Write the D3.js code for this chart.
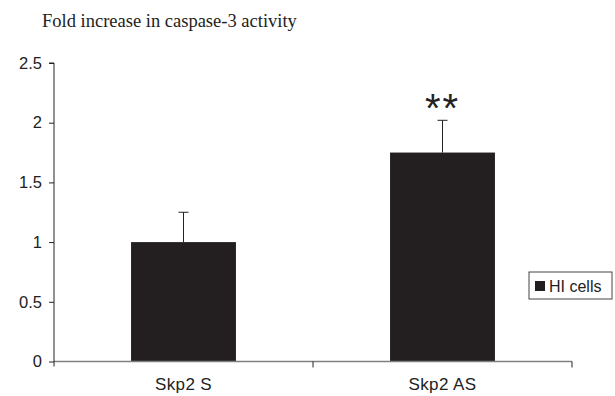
<!DOCTYPE html>
<html><head><meta charset="utf-8">
<script src="https://cdn.jsdelivr.net/npm/d3@7"></script>
<style>body{margin:0;background:#fff}svg{display:block}</style>
</head><body>
<svg id="c" width="615" height="396"></svg>
<script>
const categories = ["Skp2 S", "Skp2 AS"];
const values = [1.0, 1.75];
const errors = [0.25, 0.27];
const marks = ["", "**"];
const yTicks = [0, 0.5, 1, 1.5, 2, 2.5];
const title = "Fold increase in caspase-3 activity";
const seriesName = "HI cells";

const svg = d3.select("#c");
const x0 = 54, x1 = 572, yTop = 63, yBot = 361.5;
const x = d3.scaleBand().domain(categories).range([x0, x1]).paddingInner(0.595).paddingOuter(0.2975);
const y = d3.scaleLinear().domain([0, 2.5]).range([yBot, yTop]);

svg.append("text").attr("x", 42).attr("y", 27).attr("font-family", "Liberation Serif").attr("font-size", 18.5).attr("fill", "#222").text(title);

// bars
svg.selectAll("rect.bar").data(values).enter().append("rect")
  .attr("x", (d, i) => x(categories[i])).attr("width", x.bandwidth())
  .attr("y", d => y(d)).attr("height", d => yBot - y(d)).attr("fill", "#231f20");

// x axis
const xa = svg.append("g").attr("transform", `translate(0,${yBot})`);
xa.append("line").attr("x1", x0).attr("x2", x1).attr("stroke", "#808080").attr("stroke-width", 1.5);
const bounds = [x0 + x.step() * 1, x1];
xa.selectAll("line.t").data(bounds).enter().append("line").attr("x1", d => d).attr("x2", d => d).attr("y1", 0).attr("y2", 6).attr("stroke", "#222");
xa.selectAll("text").data(categories).enter().append("text")
  .attr("x", d => x(d) + x.bandwidth() / 2).attr("y", 28).attr("text-anchor", "middle")
  .attr("font-family", "Liberation Sans").attr("font-size", 17).attr("letter-spacing", 0.4).attr("fill", "#222").text(d => d);

// y axis
const ya = svg.append("g").attr("transform", `translate(${x0},0)`)
  .call(d3.axisLeft(y).tickValues(yTicks).tickSize(5).tickPadding(7).tickFormat(d3.format("")));
ya.select(".domain").attr("stroke", "#222").attr("d", `M-5,${yTop}H0V${yBot + 5}`);
ya.selectAll(".tick line").attr("stroke", "#222");
ya.selectAll(".tick text").attr("font-family", "Liberation Sans").attr("font-size", 16.5).attr("fill", "#222");

// error bars
values.forEach((v, i) => {
  const cx = x(categories[i]) + x.bandwidth() / 2;
  svg.append("line").attr("x1", cx).attr("x2", cx).attr("y1", y(v)).attr("y2", y(v + errors[i])).attr("stroke", "#222");
  svg.append("line").attr("x1", cx - 5).attr("x2", cx + 5).attr("y1", y(v + errors[i])).attr("y2", y(v + errors[i])).attr("stroke", "#222");
  if (marks[i]) svg.append("text").attr("x", cx).attr("y", y(v + errors[i]) + 2).attr("text-anchor", "middle")
    .attr("font-family", "Liberation Sans").attr("font-size", 40).attr("letter-spacing", 2).attr("fill", "#222").text(marks[i]);
});

// legend
const lg = svg.append("g").attr("transform", "translate(529,272)");
lg.append("rect").attr("width", 83).attr("height", 27).attr("fill", "#fff").attr("stroke", "#444");
lg.append("rect").attr("x", 6).attr("y", 9).attr("width", 10).attr("height", 10).attr("fill", "#231f20");
lg.append("text").attr("x", 20).attr("y", 19.5).attr("font-family", "Liberation Sans").attr("font-size", 16).attr("fill", "#222").text(seriesName);
</script>
</body></html>
